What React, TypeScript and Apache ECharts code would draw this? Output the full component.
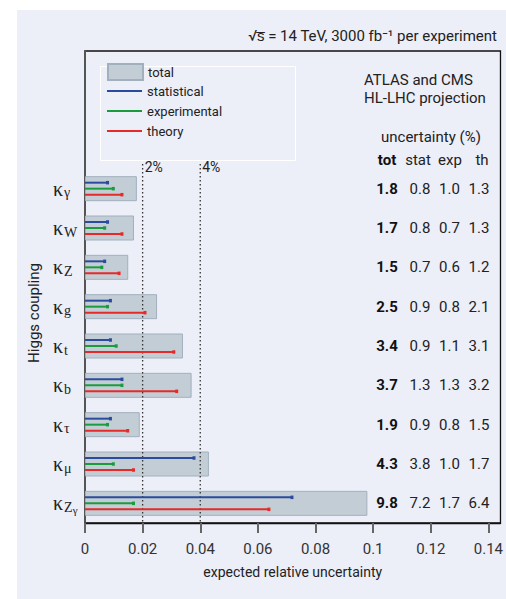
import React, { useEffect, useRef } from 'react';
import * as echarts from 'echarts';

// ---------- data ----------
const blankSlots = ['blank1', 'blank2', 'blank3'];
const couplings = ['κγ', 'κW', 'κZ', 'κg', 'κt', 'κb', 'κτ', 'κμ', 'κZγ'];
const totalPct = [1.8, 1.7, 1.5, 2.5, 3.4, 3.7, 1.9, 4.3, 9.8];
const statPct = [0.8, 0.8, 0.7, 0.9, 0.9, 1.3, 0.9, 3.8, 7.2];
const expPct = [1.0, 0.7, 0.6, 0.8, 1.1, 1.3, 0.8, 1.0, 1.7];
const thPct = [1.3, 1.3, 1.2, 2.1, 3.1, 3.2, 1.5, 1.7, 6.4];
const xTicks = [0, 0.02, 0.04, 0.06, 0.08, 0.1, 0.12, 0.14];
const refValues = [0.02, 0.04];
const refLabels = ['2%', '4%'];
const columnHeaders = ['tot', 'stat', 'exp', 'th'];
const seriesNames = ['total', 'statistical', 'experimental', 'theory'];

const categories = [...blankSlots, ...couplings];

// ---------- style ----------
const SANS = 'Roboto, "Liberation Sans", Arial, sans-serif';
const SERIF = '"Liberation Serif", "DejaVu Serif", serif';
const TEXT = '#222';
const BG = '#eceef8';
const BAR_FILL = '#c3cdd5';
const BAR_BORDER = '#a2b0be';
const BLUE = '#2b4c9e';
const GREEN = '#1b9c3c';
const RED = '#e62a2a';

const TITLE = '\u221As\u0305 = 14 TeV, 3000 fb\u207B\u00B9 per experiment';

function richLabel(name: string): string {
  if (!couplings.includes(name)) return '';
  const sub = name.slice(1);
  if (sub === 'Zγ') return '{k|κ}{s|Z}{ss|γ}';
  return '{k|κ}{s|' + sub + '}';
}

function errSeries(name: string, vals: number[], color: string, offset: number) {
  return {
    type: 'custom',
    name,
    coordinateSystem: 'cartesian2d',
    itemStyle: { color },
    encode: { x: 0, y: 1 },
    z: 5,
    data: couplings.map((c, i) => [vals[i] / 100, c]),
    renderItem: (params: any, api: any) => {
      const cat = api.value(1);
      const p0 = api.coord([0, cat]);
      const p1 = api.coord([api.value(0), cat]);
      const y = p0[1] + offset;
      return {
        type: 'group',
        children: [
          { type: 'line', shape: { x1: p0[0], y1: y, x2: p1[0], y2: y }, style: { stroke: color, lineWidth: 2 } },
          { type: 'rect', shape: { x: p1[0] - 2, y: y - 1.75, width: 3, height: 3.5 }, style: { fill: color } },
        ],
      };
    },
  };
}

const colX = [387, 420, 449.5, 479];

const option: any = {
  animation: false,
  graphic: [
    { type: 'rect', z: -100, silent: true, shape: { x: 17, y: 10, width: 489, height: 589 }, style: { fill: BG } },
    { type: 'text', x: 497, y: 36, style: { text: TITLE, font: `15px ${SANS}`, fill: TEXT, align: 'right', verticalAlign: 'middle' } },
    { type: 'rect', shape: { x: 100.5, y: 66.5, width: 195, height: 94 }, style: { fill: 'none', stroke: '#ffffff', lineWidth: 1 } },
    { type: 'text', x: 364, y: 80, style: { text: 'ATLAS and CMS', font: `15px ${SANS}`, fill: TEXT, align: 'left', verticalAlign: 'middle' } },
    { type: 'text', x: 364, y: 98, style: { text: 'HL-LHC projection', font: `15px ${SANS}`, fill: TEXT, align: 'left', verticalAlign: 'middle' } },
    { type: 'text', x: 381, y: 137, style: { text: 'uncertainty (%)', font: `15px ${SANS}`, fill: TEXT, align: 'left', verticalAlign: 'middle' } },
    { type: 'text', x: 387, y: 160, style: { text: columnHeaders[0], font: `bold 15px ${SANS}`, fill: '#111', align: 'center', verticalAlign: 'middle' } },
    { type: 'text', x: 418, y: 160, style: { text: columnHeaders[1], font: `15px ${SANS}`, fill: TEXT, align: 'center', verticalAlign: 'middle' } },
    { type: 'text', x: 450, y: 160, style: { text: columnHeaders[2], font: `15px ${SANS}`, fill: TEXT, align: 'center', verticalAlign: 'middle' } },
    { type: 'text', x: 482, y: 160, style: { text: columnHeaders[3], font: `15px ${SANS}`, fill: TEXT, align: 'center', verticalAlign: 'middle' } },
    { type: 'text', x: 34, y: 313, rotation: Math.PI / 2, style: { text: 'Higgs coupling', font: `15px ${SANS}`, fill: TEXT, align: 'center', verticalAlign: 'middle' } },
  ],
  legend: [
    {
      data: [seriesNames[0]],
      left: 107,
      top: 63,
      padding: 0,
      itemWidth: 35,
      itemHeight: 16,
      icon: 'rect',
      selectedMode: false,
      textStyle: { fontFamily: SANS, fontSize: 13, color: TEXT, lineHeight: 16 },
    },
    {
      data: seriesNames.slice(1),
      orient: 'vertical',
      left: 107,
      top: 83,
      padding: 0,
      itemWidth: 35,
      itemHeight: 2,
      itemGap: 4,
      icon: 'rect',
      selectedMode: false,
      textStyle: { fontFamily: SANS, fontSize: 13, color: TEXT, lineHeight: 16 },
    },
  ],
  grid: {
    left: 85,
    top: 51,
    right: 3,
    bottom: 76,
    show: true,
    borderColor: '#111',
    borderWidth: 1.3,
    backgroundColor: 'transparent',
  },
  xAxis: {
    type: 'value',
    min: 0,
    max: 0.1442,
    interval: 0.02,
    splitLine: { show: false },
    axisLine: { show: true, lineStyle: { color: '#111', width: 1.3 } },
    axisTick: { show: true, inside: false, length: 10, customValues: xTicks, lineStyle: { color: '#666', width: 2 } },
    axisLabel: {
      customValues: xTicks,
      margin: 18,
      fontFamily: SANS,
      fontSize: 15,
      color: '#333',
      formatter: (v: number) => String(+v.toFixed(2)),
    },
    name: 'expected relative uncertainty',
    nameLocation: 'middle',
    nameGap: 42,
    nameTextStyle: { fontFamily: SANS, fontSize: 14, color: TEXT, verticalAlign: 'top' },
  },
  yAxis: {
    type: 'category',
    data: categories,
    inverse: true,
    axisLine: { show: true, lineStyle: { color: '#555', width: 2 } },
    axisTick: { show: false },
    splitLine: { show: false },
    axisLabel: {
      align: 'left',
      margin: 32,
      formatter: (v: string) => richLabel(v),
      rich: {
        k: { fontFamily: SERIF, fontSize: 20, color: TEXT },
        s: { fontFamily: SERIF, fontSize: 14, color: TEXT, padding: [8, 0, 0, 1] },
        ss: { fontFamily: SERIF, fontSize: 11, color: TEXT, padding: [14, 0, 0, 0] },
      },
    },
  },
  series: [
    {
      type: 'bar',
      name: seriesNames[0],
      barWidth: 25,
      z: 2,
      itemStyle: { color: BAR_FILL, borderColor: BAR_BORDER, borderWidth: 1 },
      data: couplings.map((c, i) => [totalPct[i] / 100, c]),
    },
    errSeries(seriesNames[1], statPct, BLUE, -6),
    errSeries(seriesNames[2], expPct, GREEN, 0),
    errSeries(seriesNames[3], thPct, RED, 6),
    {
      type: 'custom',
      name: 'refLines',
      coordinateSystem: 'cartesian2d',
      encode: { x: 0, y: 1 },
      z: 3,
      data: refValues.map((v) => [v, couplings[0]]),
      renderItem: (params: any, api: any) => {
        const x = api.coord([api.value(0), api.value(1)])[0];
        const band = api.size([0, 1])[1];
        const top = api.coord([0, api.value(1)])[1] - band * 0.63;
        const bottom = params.coordSys.y + params.coordSys.height;
        return {
          type: 'group',
          children: [
            { type: 'line', shape: { x1: x, y1: top, x2: x, y2: bottom }, style: { stroke: '#333', lineWidth: 1.3, lineDash: [1.5, 2.5] } },
            { type: 'text', x: x + 2, y: top + 3, style: { text: refLabels[params.dataIndex], font: `14px ${SANS}`, fill: TEXT, align: 'left', verticalAlign: 'middle' } },
          ],
        };
      },
    },
    {
      type: 'custom',
      name: 'table',
      coordinateSystem: 'cartesian2d',
      encode: { x: 0, y: 1 },
      z: 4,
      data: couplings.map((c) => [0, c]),
      renderItem: (params: any, api: any) => {
        const i = params.dataIndex;
        const y = api.coord([0, api.value(1)])[1];
        const vals = [totalPct[i], statPct[i], expPct[i], thPct[i]];
        return {
          type: 'group',
          children: vals.map((v, j) => ({
            type: 'text',
            x: colX[j],
            y,
            style: {
              text: v.toFixed(1),
              font: `${j === 0 ? 'bold ' : ''}15px ${SANS}`,
              fill: j === 0 ? '#111' : TEXT,
              align: 'center',
              verticalAlign: 'middle',
            },
          })),
        };
      },
    },
  ],
};

export default function App() {
  const ref = useRef<HTMLDivElement>(null);
  useEffect(() => {
    const chart = echarts.init(ref.current!, null, { renderer: 'svg' });
    chart.setOption(option);
    return () => chart.dispose();
  }, []);
  return <div ref={ref} style={{ position: 'absolute', left: 0, top: 0, width: 506, height: 599 }} />;
}
